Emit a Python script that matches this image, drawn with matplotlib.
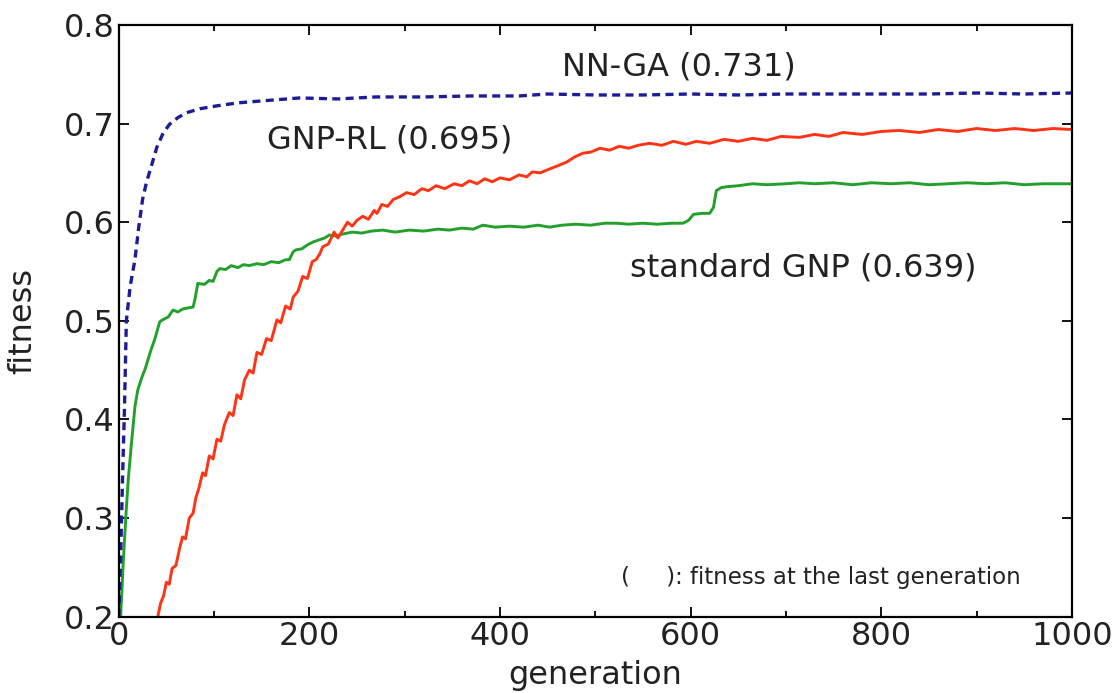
import matplotlib
matplotlib.use("Agg")
import matplotlib.pyplot as plt
from matplotlib.ticker import MultipleLocator

plt.rcParams["font.family"] = ["DejaVu Sans"]

# NN-GA (dashed blue)
nnga_gen = [0, 2, 4, 6, 8, 12, 17, 21, 25, 29, 33, 37, 40, 46, 53, 62, 71, 85,
            103, 125, 150, 190, 230, 270, 320, 370, 420, 450, 500, 550, 600,
            650, 700, 750, 800, 850, 900, 950, 1000]
nnga_fit = [0.200, 0.260, 0.340, 0.410, 0.500, 0.535, 0.562, 0.595, 0.623,
            0.640, 0.653, 0.666, 0.676, 0.689, 0.699, 0.706, 0.711, 0.715,
            0.718, 0.721, 0.723, 0.726, 0.725, 0.727, 0.727, 0.728, 0.728,
            0.730, 0.729, 0.729, 0.730, 0.729, 0.730, 0.730, 0.730, 0.730,
            0.731, 0.730, 0.731]

# GNP-RL (red)
rl_gen = [41, 44, 47, 50, 53, 56, 60, 64, 67, 70, 74, 78, 81, 84, 88, 91, 95,
          99, 103, 107, 111, 116, 120, 124, 128, 132, 137, 141, 145, 150, 155,
          160, 166, 170, 175, 180, 183, 188, 193, 198, 203, 207, 211, 214, 220,
          226, 230, 235, 240, 245, 250, 256, 262, 268, 271, 276, 282, 288, 295,
          302, 310, 318, 325, 333, 342, 352, 360, 368, 376, 384, 392, 400, 410,
          420, 428, 434, 442, 452, 460, 470, 478, 487, 495, 505, 515, 525, 535,
          545, 557, 570, 582, 595, 606, 620, 635, 650, 665, 680, 695, 714, 730,
          745, 760, 780, 800, 819, 840, 860, 880, 900, 920, 940, 960, 980, 1000]
rl_fit = [0.200, 0.214, 0.221, 0.235, 0.233, 0.249, 0.252, 0.270, 0.281, 0.279,
          0.300, 0.305, 0.321, 0.330, 0.346, 0.343, 0.363, 0.360, 0.380, 0.378,
          0.395, 0.407, 0.404, 0.425, 0.421, 0.440, 0.450, 0.447, 0.468, 0.466,
          0.482, 0.480, 0.501, 0.498, 0.515, 0.512, 0.524, 0.530, 0.545, 0.543,
          0.560, 0.562, 0.568, 0.575, 0.578, 0.590, 0.584, 0.592, 0.600, 0.596,
          0.602, 0.606, 0.603, 0.612, 0.609, 0.618, 0.616, 0.623, 0.626, 0.630,
          0.628, 0.634, 0.632, 0.637, 0.634, 0.639, 0.637, 0.642, 0.639, 0.644,
          0.641, 0.645, 0.643, 0.648, 0.646, 0.651, 0.650, 0.654, 0.657, 0.661,
          0.666, 0.670, 0.671, 0.675, 0.673, 0.677, 0.675, 0.678, 0.680, 0.678,
          0.682, 0.679, 0.682, 0.680, 0.684, 0.682, 0.685, 0.683, 0.687, 0.686,
          0.689, 0.687, 0.691, 0.689, 0.692, 0.693, 0.691, 0.694, 0.692, 0.695,
          0.693, 0.695, 0.693, 0.695, 0.694]

# standard GNP (green)
gnp_gen = [2, 5, 8, 10, 13, 17, 20, 24, 28, 33, 38, 43, 46, 52, 57, 62, 67, 72,
           78, 80, 83, 90, 95, 99, 103, 106, 112, 118, 125, 131, 137, 145, 152,
           160, 168, 175, 179, 183, 186, 192, 198, 204, 210, 216, 221, 228, 235,
           245, 255, 265, 277, 290, 305, 320, 335, 347, 360, 372, 382, 395, 410,
           425, 440, 452, 465, 480, 495, 510, 522, 535, 550, 565, 580, 592, 598,
           603, 612, 620, 624, 627, 632, 638, 650, 665, 680, 700, 714, 730, 750,
           770, 790, 810, 830, 850, 870, 890, 910, 930, 950, 970, 1000]
gnp_fit = [0.200, 0.260, 0.310, 0.339, 0.372, 0.413, 0.430, 0.442, 0.452, 0.468,
           0.482, 0.499, 0.501, 0.504, 0.511, 0.509, 0.512, 0.513, 0.514, 0.522,
           0.538, 0.537, 0.541, 0.540, 0.550, 0.553, 0.552, 0.556, 0.554, 0.557,
           0.556, 0.558, 0.557, 0.560, 0.559, 0.562, 0.562, 0.570, 0.572, 0.573,
           0.577, 0.580, 0.582, 0.584, 0.587, 0.586, 0.588, 0.590, 0.589, 0.591,
           0.592, 0.590, 0.592, 0.591, 0.593, 0.592, 0.594, 0.593, 0.597, 0.595,
           0.596, 0.595, 0.597, 0.595, 0.597, 0.598, 0.597, 0.599, 0.599, 0.598,
           0.599, 0.598, 0.599, 0.599, 0.602, 0.608, 0.609, 0.609, 0.615, 0.632,
           0.635, 0.636, 0.637, 0.639, 0.638, 0.639, 0.640, 0.639, 0.640, 0.638,
           0.640, 0.639, 0.640, 0.638, 0.639, 0.640, 0.639, 0.640, 0.638, 0.639,
           0.639]

fig = plt.figure(figsize=(11.2, 6.93), dpi=100)
ax = fig.add_axes([0.106, 0.110, 0.851, 0.854])

ax.plot(gnp_gen, gnp_fit, color="#23a02c", lw=2.1)
ax.plot(rl_gen, rl_fit, color="#ff3414", lw=2.1)
ax.plot(nnga_gen, nnga_fit, color="#1c1c96", lw=2.4, linestyle=(0, (2.4, 1.6)))

ax.set_xlim(0, 1000)
ax.set_ylim(0.2, 0.8)
ax.xaxis.set_major_locator(MultipleLocator(200))
ax.xaxis.set_minor_locator(MultipleLocator(100))
ax.yaxis.set_major_locator(MultipleLocator(0.1))
ax.tick_params(which="both", direction="in", top=True, right=True,
               labelsize=23, labelcolor="#222222", width=1.3, pad=3)
ax.tick_params(which="major", length=7)
ax.tick_params(which="minor", length=4)
for s in ax.spines.values():
    s.set_linewidth(1.6)

ax.set_xlabel("generation", fontsize=23, color="#222222", labelpad=6)
ax.set_ylabel("fitness", fontsize=23, color="#222222", labelpad=18)

ax.text(465, 0.757, "NN-GA (0.731)", fontsize=23, color="#222222", va="center")
ax.text(156, 0.683, "GNP-RL (0.695)", fontsize=23, color="#222222", va="center")
ax.text(536, 0.554, "standard GNP (0.639)", fontsize=23, color="#222222", va="center")
ax.text(527, 0.240, "(     ): fitness at the last generation", fontsize=16.5,
        color="#222222", va="center")

fig.savefig("out.png", dpi=100)
